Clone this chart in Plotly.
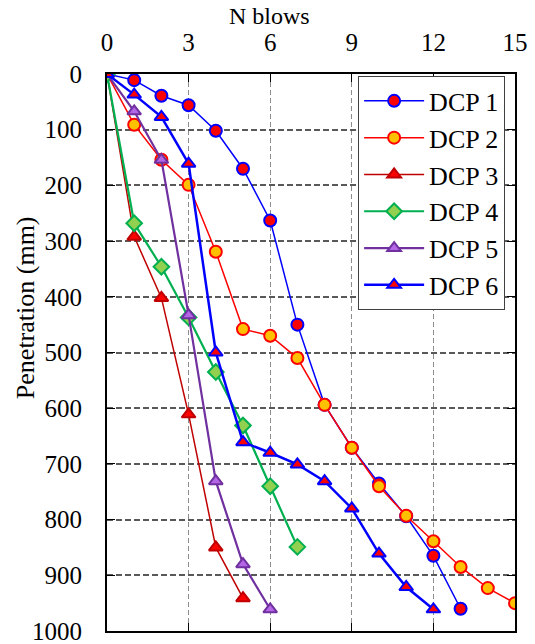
import plotly.graph_objects as go

# Data: N blows vs penetration (mm)
dcp1_blows = [0, 1, 2, 3, 4, 5, 6, 7, 8, 9, 10, 11, 12, 13]
dcp1_pen = [0, 11, 39, 56, 102, 170, 263, 450, 594, 671, 735, 794, 865, 960]

dcp2_blows = [0, 1, 2, 3, 4, 5, 6, 7, 8, 9, 10, 11, 12, 13, 14, 15]
dcp2_pen = [0, 91, 154, 199, 319, 458, 470, 510, 594, 671, 740, 793, 839, 885, 923, 950]

dcp3_blows = [0, 1, 2, 3, 4, 5]
dcp3_pen = [0, 292, 402, 611, 850, 941]

dcp4_blows = [0, 1, 2, 3, 4, 5, 6, 7]
dcp4_pen = [0, 268, 346, 437, 535, 631, 740, 849]

dcp5_blows = [0, 1, 2, 3, 4, 5, 6]
dcp5_pen = [0, 67, 154, 433, 731, 880, 961]

dcp6_blows = [0, 1, 2, 3, 4, 5, 6, 7, 8, 9, 10, 11, 12]
dcp6_pen = [0, 37, 77, 161, 500, 661, 680, 701, 731, 780, 861, 921, 961]

x_ticks = [0, 3, 6, 9, 12, 15]
y_ticks = [0, 100, 200, 300, 400, 500, 600, 700, 800, 900, 1000]

FONT = "Liberation Serif"

series = [
    ("DCP 1", dcp1_blows, dcp1_pen, "#0000FF", 1.5, "circle", 12, "#FF0000", "#0000FF"),
    ("DCP 2", dcp2_blows, dcp2_pen, "#FF0000", 1.5, "circle", 12, "#FFC000", "#FF0000"),
    ("DCP 3", dcp3_blows, dcp3_pen, "#C00000", 1.5, "triangle-up", 12, "#FF0000", "#C00000"),
    ("DCP 4", dcp4_blows, dcp4_pen, "#00B050", 2.2, "diamond", 12, "#92D050", "#00B050"),
    ("DCP 5", dcp5_blows, dcp5_pen, "#7030A0", 2.2, "triangle-up", 12, "#B366E6", "#7030A0"),
    ("DCP 6", dcp6_blows, dcp6_pen, "#0000FF", 2.5, "triangle-up", 12, "#FF0000", "#0000FF"),
]

fig = go.Figure()
for name, xs, ys, lc, lw, sym, ms, fc, ec in series:
    fig.add_trace(go.Scatter(
        x=xs, y=ys, name=name, mode="lines+markers",
        line=dict(color=lc, width=lw),
        marker=dict(symbol=sym, size=ms, color=fc, line=dict(color=ec, width=2)),
    ))

fig.update_layout(
    width=535, height=644,
    margin=dict(l=107, r=20, t=74, b=13),
    paper_bgcolor="white", plot_bgcolor="white",
    font=dict(family=FONT, size=25, color="black"),
    showlegend=True,
    legend=dict(
        x=0.615, y=0.996, xanchor="left", yanchor="top",
        bgcolor="white", bordercolor="#404040", borderwidth=1.2,
        font=dict(family=FONT, size=26, color="black"),
        tracegroupgap=0, itemwidth=60,
    ),
    annotations=[
        dict(
            text="Penetration (mm)", textangle=-90,
            xref="paper", yref="paper", x=-0.201, y=0.5814,
            xanchor="center", yanchor="middle", showarrow=False,
            font=dict(family=FONT, size=26, color="black"),
        ),
        dict(
            text="N blows",
            xref="paper", yref="paper", x=0.3995, y=1.104,
            xanchor="center", yanchor="middle", showarrow=False,
            font=dict(family=FONT, size=24, color="black"),
        ),
    ],
)

fig.update_xaxes(
    side="top", range=[0, 15], tickvals=x_ticks,
    showline=True, linecolor="black", linewidth=1.8, mirror="ticks",
    ticks="inside", ticklen=8, tickwidth=1.2, tickcolor="black",
    showgrid=True, gridcolor="#8C8C8C", gridwidth=1, griddash="5px,3px",
    zeroline=False, ticklabelstandoff=11, automargin=False,
    tickfont=dict(family=FONT, size=25),
)
fig.update_yaxes(
    range=[1000, 0], tickvals=y_ticks,
    showline=True, linecolor="black", linewidth=1.8, mirror="ticks",
    ticks="inside", ticklen=8, tickwidth=1.2, tickcolor="black",
    showgrid=True, gridcolor="#595959", gridwidth=1.5, griddash="6px,3px",
    zeroline=False, ticklabelstandoff=18, ticklabeloverflow="allow",
    automargin=False,
    tickfont=dict(family=FONT, size=25),
)

fig.write_html("out.html")
